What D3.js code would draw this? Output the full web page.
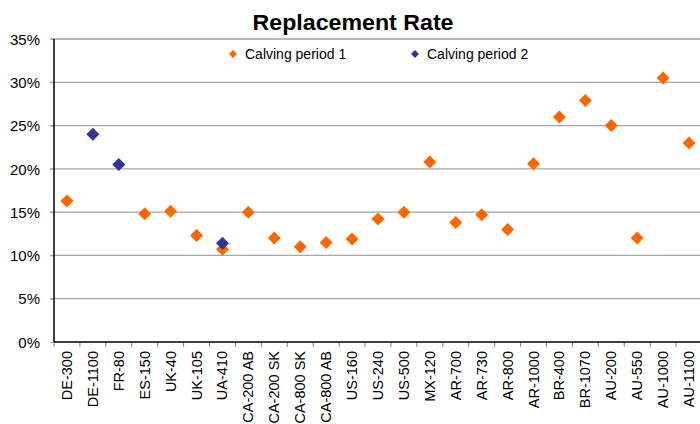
<!DOCTYPE html>
<html>
<head>
<meta charset="utf-8">
<script src="https://cdn.jsdelivr.net/npm/d3@7"></script>
<style>
  html, body { margin: 0; padding: 0; background: #fff; }
  svg { display: block; font-family: "Liberation Sans", Arial, sans-serif; }
</style>
</head>
<body>
<svg id="chart" width="700" height="424"></svg>
<script>
const categories = ["DE-300","DE-1100","FR-80","ES-150","UK-40","UK-105","UA-410","CA-200 AB","CA-200 SK","CA-800 SK","CA-800 AB","US-160","US-240","US-500","MX-120","AR-700","AR-730","AR-800","AR-1000","BR-400","BR-1070","AU-200","AU-550","AU-1000","AU-1100"];
const period1 = [16.3,null,null,14.8,15.1,12.3,10.7,15.0,12.0,11.0,11.5,11.9,14.2,15.0,20.8,13.8,14.7,13.0,20.6,26.0,27.9,25.0,12.0,30.5,23.0];
const period2 = [null,24.0,20.5,null,null,null,11.4,null,null,null,null,null,null,null,null,null,null,null,null,null,null,null,null,null,null];
const yTicks = [0,5,10,15,20,25,30,35];
const seriesNames = ["Calving period 1","Calving period 2"];
const seriesColors = ["#FF6600","#333399"];

const svg = d3.select("#chart");
const plotL = 54, plotR = 702, plotT = 39, plotB = 342;

const x = d3.scaleBand().domain(categories).range([plotL, plotR]).padding(0);
const y = d3.scaleLinear().domain([0, 35]).range([plotB, plotT]);

// gridlines
svg.append("g").selectAll("line").data(yTicks.filter(d => d > 0)).join("line")
  .attr("x1", plotL - 4).attr("x2", plotR)
  .attr("y1", d => y(d)).attr("y2", d => y(d))
  .attr("stroke", d => d === 35 ? "#777" : "#a6a6a6").attr("stroke-width", 1.2);

// y axis
const yAxis = d3.axisLeft(y).tickValues(yTicks).tickFormat(d => d + "%").tickSize(4).tickPadding(10);
const gy = svg.append("g").attr("transform", `translate(${plotL},0)`).call(yAxis);
gy.select(".domain").remove();
gy.selectAll(".tick line").attr("stroke", "#a6a6a6");
gy.selectAll(".tick text").attr("font-size", 15).attr("fill", "#000")
  .attr("font-family", "'Liberation Sans', Arial, sans-serif").attr("dy", "0.35em");
svg.append("line").attr("x1", plotL).attr("x2", plotL).attr("y1", plotT).attr("y2", plotB)
  .attr("stroke", "#000").attr("stroke-width", 1.5);

// x axis ticks at band boundaries
const bounds = categories.map(c => x(c)).concat([plotR]);
svg.append("g").selectAll("line").data(bounds).join("line")
  .attr("x1", d => d).attr("x2", d => d).attr("y1", plotB).attr("y2", plotB + 5)
  .attr("stroke", "#808080").attr("stroke-width", 1);
svg.append("line").attr("x1", plotL).attr("x2", plotR).attr("y1", plotB).attr("y2", plotB)
  .attr("stroke", "#000").attr("stroke-width", 1.5);

// x labels
svg.append("g").selectAll("text").data(categories).join("text")
  .attr("transform", d => `translate(${x(d) + x.bandwidth() / 2 + 5},${plotB + 9}) rotate(-90)`)
  .attr("text-anchor", "end").attr("font-size", 14.5).attr("fill", "#000")
  .text(d => d);

// markers
function diamond(cx, cy, r) {
  return `M${cx},${cy - r}L${cx + r},${cy}L${cx},${cy + r}L${cx - r},${cy}Z`;
}
[period1, period2].forEach((vals, si) => {
  const pts = categories.map((c, i) => ({c, v: vals[i]})).filter(d => d.v !== null);
  svg.append("g").selectAll("path").data(pts).join("path")
    .attr("d", d => diamond(x(d.c) + x.bandwidth() / 2, y(d.v), 6.5))
    .attr("fill", seriesColors[si]);
});

// legend
const legendX = [233, 415];
seriesNames.forEach((name, i) => {
  svg.append("path").attr("d", diamond(legendX[i], 54, 4)).attr("fill", seriesColors[i]);
  svg.append("text").attr("x", legendX[i] + 12).attr("y", 59).attr("font-size", 14)
    .attr("fill", "#000").text(name);
});

// title
svg.append("text").attr("x", 353).attr("y", 30).attr("text-anchor", "middle")
  .attr("font-size", 21.5).attr("font-weight", "bold").attr("fill", "#000")
  .attr("textLength", 201).attr("lengthAdjust", "spacingAndGlyphs")
  .text("Replacement Rate");
</script>
</body>
</html>
